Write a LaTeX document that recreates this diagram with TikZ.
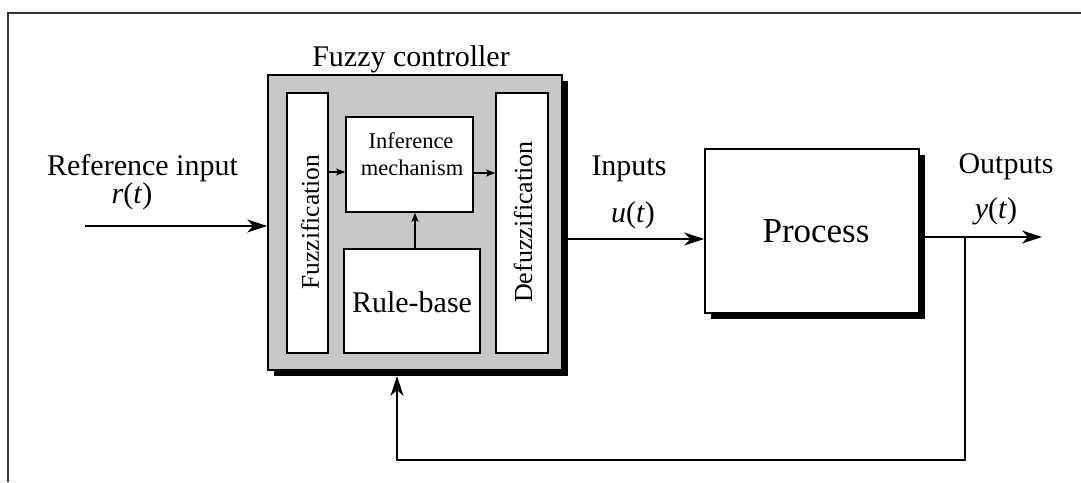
\documentclass[tikz,border=0pt]{standalone}
\usepackage{fontspec}
\setmainfont{Liberation Serif}
\usetikzlibrary{arrows.meta,shadows,calc}
\begin{document}
\begin{tikzpicture}[x=1pt,y=-1pt,
  blk/.style={draw=black, line width=1.6pt, fill=white, inner sep=0pt, rectangle},
  shadowed/.style={drop shadow={shadow xshift=6pt, shadow yshift=-6pt, fill=black, opacity=1}},
  conn/.style={line width=1.5pt, -{Stealth[length=20pt,width=13pt,inset=6pt]}},
  small/.style={line width=1.2pt, -{Stealth[length=9pt,width=7pt,inset=2pt]}},
  lbl/.style={inner sep=0pt, anchor=base, font=\fontsize{30}{36}\selectfont}]
\useasboundingbox (0,0) rectangle (1081,482);
% frame
\draw[line width=1.8pt, black!80] (8,482) -- (8,13) -- (1081,13);
% fuzzy controller
\node[blk, shadowed, fill=black!22, minimum width=294pt, minimum height=295pt] (fc) at (415,222.5) {};
\node[lbl] (fctitle) at (411,66) {Fuzzy controller};
\node[blk, minimum width=41pt, minimum height=260pt] (fuzz) at (307.5,223) {};
\node[rotate=90, inner sep=0pt, font=\fontsize{25.5}{30}\selectfont] (fuzzt) at (310,222) {Fuzzification};
\node[blk, minimum width=52pt, minimum height=260pt] (defuzz) at (522,223) {};
\node[rotate=90, inner sep=0pt, font=\fontsize{26}{30}\selectfont] (defuzzt) at (523,222) {Defuzzification};
\node[blk, minimum width=127pt, minimum height=95pt] (inf) at (409.5,164.5) {};
\node[inner sep=0pt, anchor=base, font=\fontsize{22.5}{27}\selectfont] (inf1) at (411,148) {Inference};
\node[inner sep=0pt, anchor=base, font=\fontsize{22.5}{27}\selectfont] (inf2) at (412,175) {mechanism};
\node[blk, minimum width=136pt, minimum height=104pt] (rule) at (412,301) {};
\node[lbl] (rulet) at (412,312) {Rule-base};
% inner arrows
\coordinate (a1) at (fuzz.east |- 0,172);
\draw[small] (a1) -- (a1 -| inf.west);
\coordinate (a2) at (inf.east |- 0,173);
\draw[small] (a2) -- (a2 -| defuzz.west);
\coordinate (a3) at (415,0);
\draw[small] (a3 |- rule.north) -- (a3 |- inf.south);
% process
\node[blk, shadowed, minimum width=214pt, minimum height=164pt] (proc) at (812,231) {};
\node[inner sep=0pt, anchor=base, font=\fontsize{35}{40}\selectfont] (proct) at (816,242) {Process};
% reference input
\coordinate (rin) at (85,226);
\draw[conn] (rin) -- (rin -| fc.west);
\node[lbl] (reft) at (142.5,175) {Reference input};
\node[lbl] (rt) at (132,203) {\textit{r}(\textit{t})};
% inputs
\coordinate (uout) at (fc.east |- 0,239);
\draw[conn] (uout) -- (uout -| proc.west);
\node[lbl] (inpt) at (629,175) {Inputs};
\node[lbl] (ut) at (633,222) {\textit{u}(\textit{t})};
% outputs
\coordinate (yst) at (proc.east |- 0,237);
\coordinate (yend) at (1042,237);
\draw[conn] (yst) -- (yend);
\node[lbl] (outt) at (1006,173) {Outputs};
\node[lbl] (yt) at (996,218) {\textit{y}(\textit{t})};
% feedback
\coordinate (fb1) at (965,237);
\coordinate (fb2) at (965,460);
\coordinate (fb3) at (397,460);
\coordinate (fbtip) at (397,376);
\draw[conn] (fb1) -- (fb2) -- (fb3) -- (fbtip);
\end{tikzpicture}
\end{document}
